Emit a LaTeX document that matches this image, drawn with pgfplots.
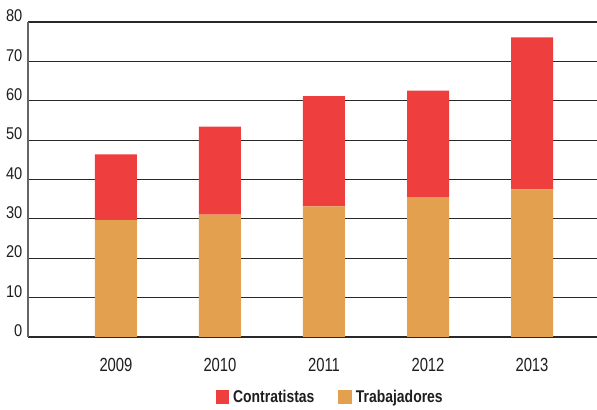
\documentclass[border=0pt]{standalone}
\usepackage{fontspec}
\setmainfont{Liberation Sans}
\newfontfamily\yfont[FakeStretch=0.86]{Liberation Sans}
\newfontfamily\xfont[FakeStretch=0.78]{Liberation Sans}
\newfontfamily\lfont[FakeStretch=0.82]{Liberation Sans}
\usepackage{pgfplots}
\pgfplotsset{compat=1.18}

\definecolor{contr}{RGB}{238,62,62}
\definecolor{trab}{RGB}{227,160,78}
\definecolor{gridc}{RGB}{40,40,40}
\definecolor{txt}{RGB}{30,30,30}

\begin{document}
\begin{tikzpicture}
\path[use as bounding box] (0,0) rectangle (597bp,410bp);
\begin{axis}[
    at={(28bp,73bp)}, anchor=south west,
    scale only axis,
    width=569bp, height=315bp,
    ybar stacked,
    bar width=42bp,
    xmin=-0.846, xmax=4.625,
    ymin=0, ymax=80,
    ytick={0,10,...,80},
    xtick={0,1,2,3,4},
    xticklabels={2009,2010,2011,2012,2013},
    /pgf/number format/assume math mode=true,
    major tick length=0pt,
    axis lines*=left,
    y axis line style={draw=gray!80!black, line width=1.2bp, -},
    x axis line style={draw=gridc, line width=1.1bp, -},
    ymajorgrids,
    grid style={draw=gridc, line width=1.1bp},
    yticklabel style={anchor=south east, inner sep=0pt, xshift=-5.5bp, text=txt, font=\fontsize{17bp}{17bp}\yfont},
    xticklabel style={anchor=north, inner sep=0pt, yshift=-21bp, text=txt, font=\fontsize{19bp}{19bp}\xfont},
    reverse legend,
    legend columns=2,
    legend style={at={(0.531,-0.19)}, anchor=center, draw=none, fill=none,
        text=txt, font=\fontsize{17bp}{17bp}\lfont\bfseries,
        /tikz/every odd column/.append style={column sep=2bp},
        /tikz/every even column/.append style={column sep=22bp}},
    legend image code/.code={\fill[#1] (0bp,-6.75bp) rectangle (13.5bp,6.75bp);},
]
\addplot[fill=trab, draw=none] coordinates {(0,29.7) (1,31.1) (2,33.2) (3,35.5) (4,37.5)};
\addplot[fill=contr, draw=none] coordinates {(0,16.7) (1,22.3) (2,28.0) (3,27.1) (4,38.6)};
\legend{Trabajadores,Contratistas}
\end{axis}
\end{tikzpicture}
\end{document}
